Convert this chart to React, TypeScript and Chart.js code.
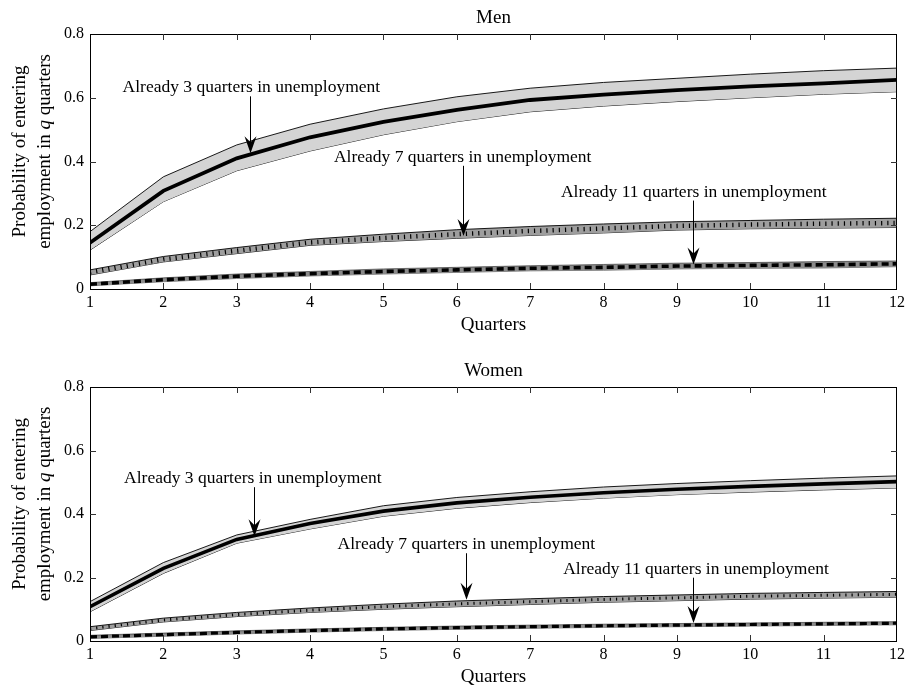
import React, { useEffect, useRef } from "react";
import { Chart, registerables } from "chart.js";

Chart.register(...registerables);

const FONT = "'Liberation Serif', 'Times New Roman', serif";

const quarters = [1, 2, 3, 4, 5, 6, 7, 8, 9, 10, 11, 12];
const yTickValues = [0, 0.2, 0.4, 0.6, 0.8];

const noteLabels = [
  "Already 3 quarters in unemployment",
  "Already 7 quarters in unemployment",
  "Already 11 quarters in unemployment",
];

// ---- Men ----
const menQ3 = [0.145, 0.308, 0.41, 0.476, 0.524, 0.562, 0.593, 0.61, 0.624, 0.636, 0.645, 0.656];
const menQ3Hi = [0.18, 0.352, 0.452, 0.517, 0.565, 0.603, 0.63, 0.648, 0.661, 0.674, 0.685, 0.693];
const menQ3Lo = [0.122, 0.274, 0.371, 0.433, 0.484, 0.525, 0.556, 0.574, 0.588, 0.6, 0.611, 0.619];

const menQ7 = [0.052, 0.093, 0.12, 0.146, 0.16, 0.172, 0.182, 0.19, 0.198, 0.202, 0.205, 0.207];
const menQ7Hi = [0.06, 0.102, 0.13, 0.156, 0.172, 0.186, 0.196, 0.204, 0.211, 0.215, 0.219, 0.222];
const menQ7Lo = [0.044, 0.085, 0.111, 0.137, 0.149, 0.159, 0.168, 0.176, 0.185, 0.189, 0.191, 0.193];

const menQ11 = [0.015, 0.029, 0.04, 0.048, 0.055, 0.06, 0.065, 0.068, 0.072, 0.074, 0.076, 0.079];
const menQ11Hi = [0.02, 0.035, 0.047, 0.055, 0.063, 0.068, 0.073, 0.077, 0.081, 0.083, 0.086, 0.088];
const menQ11Lo = [0.01, 0.023, 0.033, 0.041, 0.047, 0.052, 0.057, 0.059, 0.063, 0.065, 0.066, 0.07];

// annotation positions in data units: text centre x, text baseline y, arrow x, arrow tip y
const menNoteTextX = [3.2, 6.08, 9.23];
const menNoteTextY = [0.617, 0.399, 0.29];
const menNoteArrowX = [3.18, 6.08, 9.22];
const menNoteArrowTip = [0.426, 0.166, 0.077];

// ---- Women ----
const womenQ3 = [0.108, 0.229, 0.32, 0.37, 0.409, 0.435, 0.453, 0.467, 0.478, 0.487, 0.495, 0.502];
const womenQ3Hi = [0.124, 0.247, 0.334, 0.383, 0.426, 0.452, 0.47, 0.485, 0.496, 0.505, 0.513, 0.52];
const womenQ3Lo = [0.092, 0.213, 0.308, 0.353, 0.393, 0.418, 0.436, 0.45, 0.461, 0.469, 0.476, 0.482];

const womenQ7 = [0.039, 0.066, 0.083, 0.097, 0.108, 0.117, 0.124, 0.131, 0.136, 0.141, 0.144, 0.147];
const womenQ7Hi = [0.045, 0.072, 0.09, 0.104, 0.116, 0.126, 0.133, 0.14, 0.145, 0.15, 0.153, 0.156];
const womenQ7Lo = [0.033, 0.06, 0.077, 0.09, 0.1, 0.108, 0.115, 0.122, 0.127, 0.132, 0.135, 0.138];

const womenQ11 = [0.013, 0.02, 0.027, 0.033, 0.038, 0.042, 0.045, 0.048, 0.05, 0.052, 0.054, 0.056];
const womenQ11Hi = [0.018, 0.025, 0.032, 0.038, 0.043, 0.047, 0.05, 0.053, 0.055, 0.057, 0.059, 0.061];
const womenQ11Lo = [0.008, 0.015, 0.022, 0.028, 0.033, 0.037, 0.04, 0.043, 0.045, 0.047, 0.049, 0.051];

const womenNoteTextX = [3.22, 6.13, 9.26];
const womenNoteTextY = [0.497, 0.289, 0.212];
const womenNoteArrowX = [3.23, 6.13, 9.22];
const womenNoteArrowTip = [0.33, 0.13, 0.057];

type PanelProps = {
  title: string;
  top: number;
  height: number;
  plotTop: number;
  plotBottom: number;
  series: number[][]; // q3, hi, lo, q7, hi, lo, q11, hi, lo
  noteX: number[];
  noteY: number[];
  arrowX: number[];
  arrowTip: number[];
  thin: boolean;
};

function pts(arr: number[]) {
  return arr.map((v, i) => ({ x: quarters[i], y: v }));
}

function Panel(props: PanelProps) {
  const ref = useRef<HTMLCanvasElement | null>(null);
  useEffect(() => {
    const canvas = ref.current;
    if (!canvas) return;
    const s = props.series;
    const bandBorder = 0.9;
    const datasets: any[] = [
      // center lines (drawn on top)
      { data: pts(s[0]), borderColor: "#000", borderWidth: props.thin ? 3.6 : 3.8, order: 0 },
      { data: pts(s[3]), borderColor: "#000", borderWidth: props.thin ? 3 : 4.5, borderDash: [1.2, 5], borderCapStyle: "butt", order: 0 },
      { data: pts(s[6]), borderColor: "#000", borderWidth: props.thin ? 3.2 : 3.6, borderDash: [7, 4], borderCapStyle: "butt", order: 0 },
      // bands
      { data: pts(s[1]), borderColor: "#000", borderWidth: bandBorder, backgroundColor: "#d4d4d4", fill: "+1", order: 2 },
      { data: pts(s[2]), borderColor: "#000", borderWidth: bandBorder, fill: false, order: 2 },
      { data: pts(s[4]), borderColor: "#000", borderWidth: bandBorder, backgroundColor: "#9e9e9e", fill: "+1", order: 2 },
      { data: pts(s[5]), borderColor: "#000", borderWidth: bandBorder, fill: false, order: 2 },
      { data: pts(s[7]), borderColor: "#222", borderWidth: 0.6, backgroundColor: "#8a8a8a", fill: "+1", order: 2 },
      { data: pts(s[8]), borderColor: "#222", borderWidth: 0.6, fill: false, order: 2 },
    ];
    datasets.forEach((d) => {
      d.pointRadius = 0;
      d.tension = 0;
    });

    const decor = {
      id: "decor",
      afterDatasetsDraw(chart: any) {
        const { ctx, chartArea: a, scales } = chart;
        const xs = scales.x;
        const ys = scales.y;
        ctx.save();
        // frame
        ctx.strokeStyle = "#000";
        ctx.lineWidth = 1;
        ctx.strokeRect(a.left + 0.5, a.top + 0.5, a.right - a.left - 1, a.bottom - a.top);
        // inward ticks
        ctx.strokeStyle = "#333";
        ctx.beginPath();
        quarters.slice(1, -1).forEach((q) => {
          const px = Math.round(xs.getPixelForValue(q)) + 0.5;
          ctx.moveTo(px, a.bottom);
          ctx.lineTo(px, a.bottom - 6);
          ctx.moveTo(px, a.top);
          ctx.lineTo(px, a.top + 6);
        });
        yTickValues.slice(1, -1).forEach((v) => {
          const py = Math.round(ys.getPixelForValue(v)) + 0.5;
          ctx.moveTo(a.left, py);
          ctx.lineTo(a.left + 6, py);
          ctx.moveTo(a.right, py);
          ctx.lineTo(a.right - 6, py);
        });
        ctx.stroke();

        // annotations
        ctx.fillStyle = "#000";
        ctx.strokeStyle = "#000";
        ctx.font = `17.5px ${FONT}`;
        ctx.textAlign = "center";
        ctx.textBaseline = "alphabetic";
        noteLabels.forEach((label, i) => {
          const tx = xs.getPixelForValue(props.noteX[i]);
          const ty = ys.getPixelForValue(props.noteY[i]);
          ctx.fillText(label, tx, ty);
          const ax = Math.round(xs.getPixelForValue(props.arrowX[i])) + 0.5;
          const tip = ys.getPixelForValue(props.arrowTip[i]);
          ctx.lineWidth = 1;
          ctx.beginPath();
          ctx.moveTo(ax, ty + 4);
          ctx.lineTo(ax, tip - 8);
          ctx.stroke();
          ctx.beginPath();
          ctx.moveTo(ax, tip);
          ctx.lineTo(ax - 6, tip - 17);
          ctx.lineTo(ax, tip - 11);
          ctx.lineTo(ax + 6, tip - 17);
          ctx.closePath();
          ctx.fill();
        });
        ctx.restore();
      },
      afterDraw(chart: any) {
        const { ctx, chartArea: a } = chart;
        ctx.save();
        ctx.fillStyle = "#000";
        ctx.textAlign = "center";
        ctx.textBaseline = "middle";
        const cx = (a.left + a.right) / 2;
        ctx.font = `19px ${FONT}`;
        ctx.fillText(props.title, cx, a.top - 16);
        ctx.fillText("Quarters", cx, a.bottom + 36);
        // y title
        const cy = (a.top + a.bottom) / 2 - 10;
        ctx.translate(0, cy);
        ctx.rotate(-Math.PI / 2);
        ctx.fillText("Probability of entering", 0, 20);
        const p1 = "employment in ";
        const p3 = " quarters";
        const normal = `19px ${FONT}`;
        const italic = `italic 19px ${FONT}`;
        ctx.font = normal;
        const w1 = ctx.measureText(p1).width;
        const w3 = ctx.measureText(p3).width;
        ctx.font = italic;
        const w2 = ctx.measureText("q").width;
        const total = w1 + w2 + w3;
        let x0 = -total / 2;
        ctx.textAlign = "left";
        ctx.font = normal;
        ctx.fillText(p1, x0, 45);
        x0 += w1;
        ctx.font = italic;
        ctx.fillText("q", x0, 45);
        x0 += w2;
        ctx.font = normal;
        ctx.fillText(p3, x0, 45);
        ctx.restore();
      },
    };

    const chart = new Chart(canvas, {
      type: "line",
      data: { datasets },
      options: {
        animation: false,
        responsive: false,
        maintainAspectRatio: false,
        layout: { padding: { top: props.plotTop, right: 9, left: 0, bottom: 0 } },
        plugins: {
          legend: { display: false },
          title: { display: false },
          tooltip: { enabled: false },
        },
        scales: {
          x: {
            type: "linear",
            min: 1,
            max: 12,
            grid: { display: false, drawTicks: false },
            border: { display: false },
            ticks: {
              stepSize: 1,
              padding: 4,
              color: "#000",
              font: { family: FONT, size: 16 },
              maxRotation: 0,
              autoSkip: false,
            },
            afterFit(scale: any) {
              scale.height = props.height - props.plotBottom;
              scale.paddingLeft = 0;
              scale.paddingRight = 0;
            },
          },
          y: {
            type: "linear",
            min: 0,
            max: 0.8,
            grid: { display: false, drawTicks: false },
            border: { display: false },
            ticks: {
              stepSize: 0.2,
              padding: 6,
              color: "#000",
              font: { family: FONT, size: 16 },
              callback: (v: any) => (Math.abs(v) < 1e-9 ? "0" : Number(v).toFixed(1)),
            },
            afterFit(scale: any) {
              scale.width = 90;
              scale.paddingTop = 0;
              scale.paddingBottom = 0;
            },
          },
        },
      },
      plugins: [decor],
    });
    return () => chart.destroy();
  }, []);

  return (
    <canvas
      ref={ref}
      width={906}
      height={props.height}
      style={{ position: "absolute", left: 0, top: props.top, width: 906, height: props.height }}
    />
  );
}

export default function App() {
  return (
    <div style={{ position: "absolute", left: 0, top: 0, width: 906, height: 688, background: "#fff" }}>
      <Panel
        title="Men"
        top={0}
        height={344}
        plotTop={34}
        plotBottom={289}
        series={[menQ3, menQ3Hi, menQ3Lo, menQ7, menQ7Hi, menQ7Lo, menQ11, menQ11Hi, menQ11Lo]}
        noteX={menNoteTextX}
        noteY={menNoteTextY}
        arrowX={menNoteArrowX}
        arrowTip={menNoteArrowTip}
        thin={false}
      />
      <Panel
        title="Women"
        top={344}
        height={344}
        plotTop={43}
        plotBottom={297}
        series={[womenQ3, womenQ3Hi, womenQ3Lo, womenQ7, womenQ7Hi, womenQ7Lo, womenQ11, womenQ11Hi, womenQ11Lo]}
        noteX={womenNoteTextX}
        noteY={womenNoteTextY}
        arrowX={womenNoteArrowX}
        arrowTip={womenNoteArrowTip}
        thin={true}
      />
    </div>
  );
}
